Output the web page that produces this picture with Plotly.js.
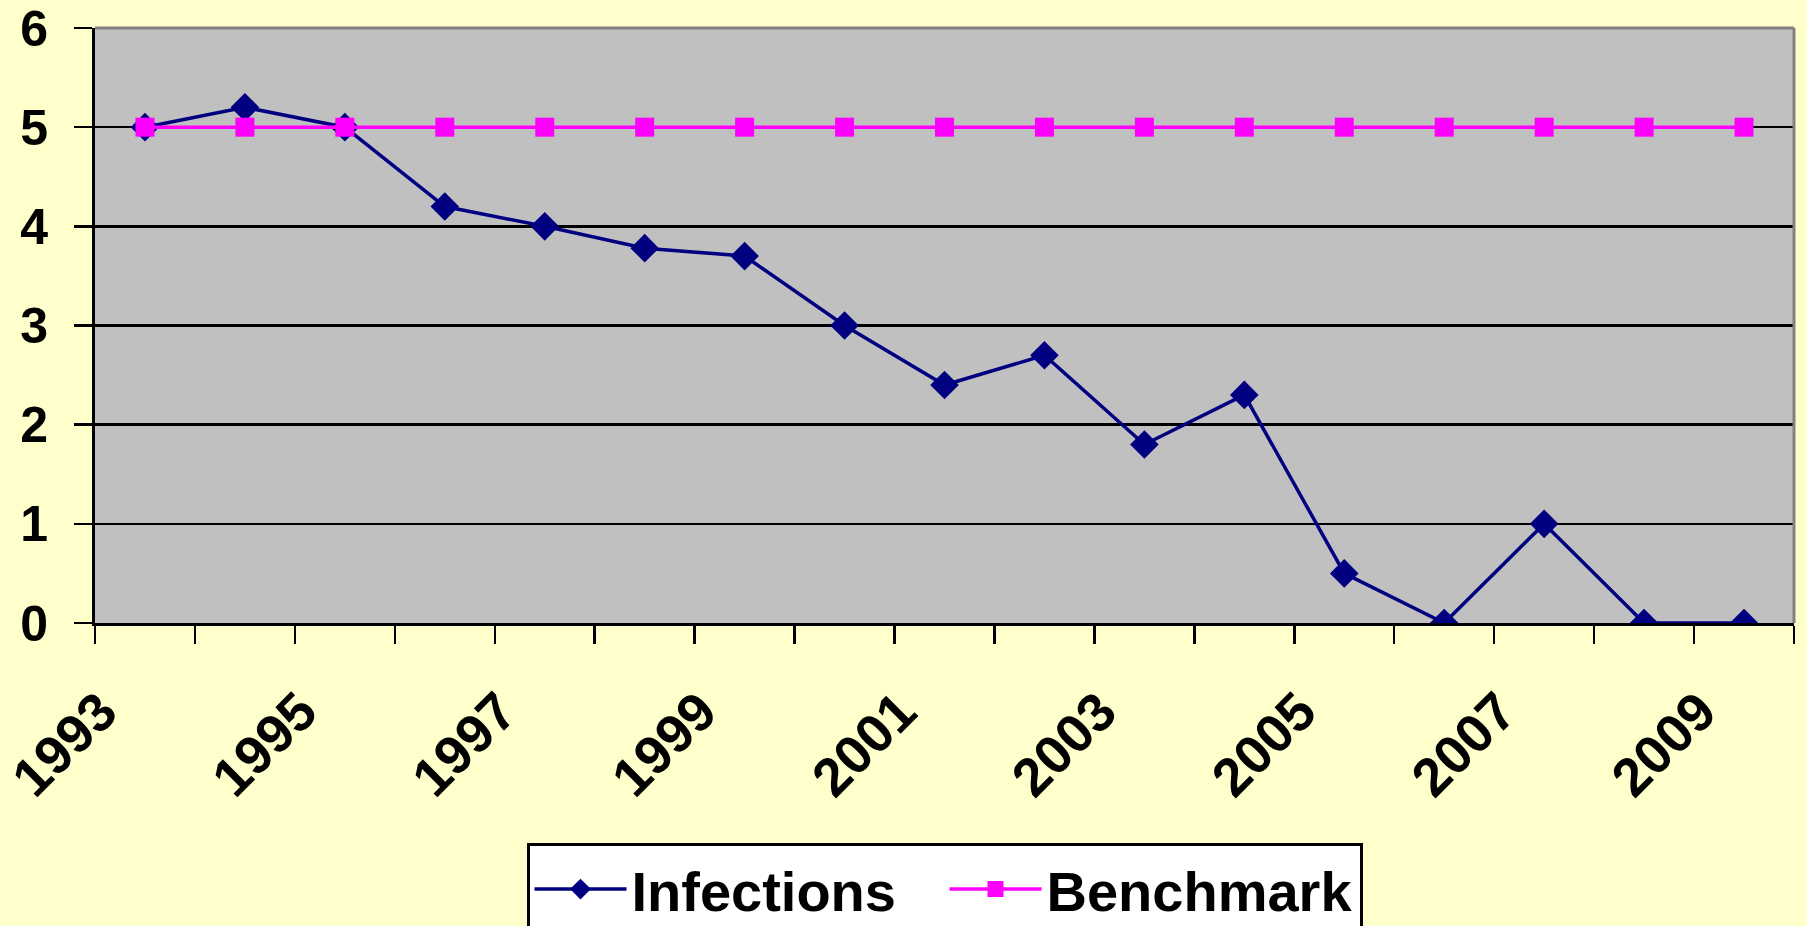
<!DOCTYPE html>
<html>
<head>
<meta charset="utf-8">
<script src="https://cdn.plot.ly/plotly-3.0.1.min.js"></script>
<style>
  html,body{margin:0;padding:0;background:#FFFFCC;}
  #chart{width:1807px;height:926px;}
</style>
</head>
<body>
<div id="chart"></div>
<script>
const years=[1993,1994,1995,1996,1997,1998,1999,2000,2001,2002,2003,2004,2005,2006,2007,2008,2009];
const infections=[5.0,5.2,5.0,4.2,4.0,3.78,3.7,3.0,2.4,2.7,1.8,2.3,0.5,0,1.0,0,0];
const benchmark=[5,5,5,5,5,5,5,5,5,5,5,5,5,5,5,5,5];
const yearLabels=[1993,1995,1997,1999,2001,2003,2005,2007,2009];

const font={family:'Arial, "Liberation Sans", sans-serif',color:'#000',weight:'bold'};

Plotly.newPlot('chart',[
  {x:years,y:infections,name:'Infections',mode:'lines+markers',
   line:{color:'#000080',width:3.5},
   marker:{symbol:'diamond',size:22,color:'#000080'}},
  {x:years,y:benchmark,name:'Benchmark',mode:'lines+markers',
   line:{color:'#FF00FF',width:3.5},
   marker:{symbol:'square',size:19,color:'#FF00FF'}}
],{
  width:1807,height:926,
  paper_bgcolor:'#FFFFCC',plot_bgcolor:'#C0C0C0',
  margin:{l:95,r:13,t:28,b:303,autoexpand:false},
  showlegend:true,
  font:{...font,size:50},
  xaxis:{
    range:[1992.5,2009.5],automargin:false,
    tickvals:yearLabels,ticktext:yearLabels.map(String),
    tickangle:-45,ticks:'outside',ticklen:32,tickcolor:'rgba(0,0,0,0)',
    ticklabelshift:-44,ticklabeloverflow:'allow',
    tickfont:{...font,size:54},
    showgrid:false,zeroline:false,
    showline:true,linecolor:'#000',linewidth:3,
    minor:{tick0:1992.5,dtick:1,ticks:'outside',ticklen:18,tickwidth:2.5,tickcolor:'#000',showgrid:false}
  },
  yaxis:{
    range:[0,6],dtick:1,automargin:false,
    ticks:'outside',ticklen:18,tickwidth:2.5,tickcolor:'#000',
    ticklabelstandoff:16,ticklabeloverflow:'allow',
    tickfont:{...font,size:50},
    showgrid:true,gridcolor:'#000',gridwidth:2.5,
    zeroline:false,showline:true,linecolor:'#000',linewidth:3
  },
  shapes:[
    {type:'line',xref:'paper',yref:'paper',x0:0,x1:1,y0:1,y1:1,line:{color:'#808080',width:3}},
    {type:'line',xref:'paper',yref:'paper',x0:1,x1:1,y0:0,y1:1,line:{color:'#808080',width:3}}
  ],
  legend:{
    orientation:'h',x:0.5,xanchor:'center',y:-0.37,yanchor:'top',
    itemwidth:92,entrywidth:308,
    bgcolor:'#FFFFFF',bordercolor:'#000',borderwidth:3,
    font:{...font,size:56}
  }
},{staticPlot:true,displayModeBar:false});
</script>
</body>
</html>
